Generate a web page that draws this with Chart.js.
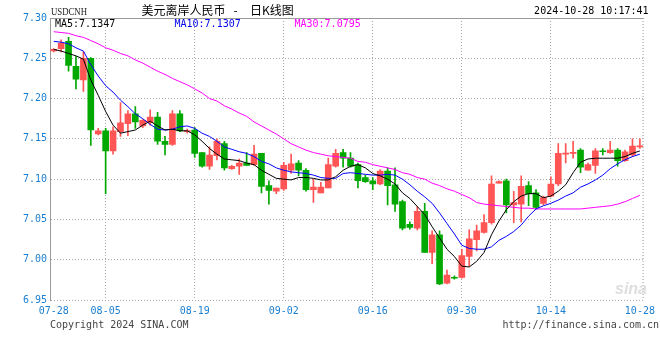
<!DOCTYPE html>
<html><head><meta charset="utf-8">
<script src="https://cdn.jsdelivr.net/npm/chart.js@4/dist/chart.umd.min.js"></script>
<style>html,body{margin:0;padding:0;background:#fff}canvas{display:block}</style>
</head><body>
<canvas id="c" width="660" height="360"></canvas>
<script>
const dates = ['07-28','07-29','07-30','07-31','08-01','08-02',
 '08-04','08-05','08-06','08-07','08-08','08-09',
 '08-11','08-12','08-13','08-14','08-15','08-16',
 '08-18','08-19','08-20','08-21','08-22','08-23',
 '08-25','08-26','08-27','08-28','08-29','08-30',
 '09-01','09-02','09-03','09-04','09-05','09-06',
 '09-08','09-09','09-10','09-11','09-12','09-13',
 '09-15','09-16','09-17','09-18','09-19','09-20',
 '09-22','09-23','09-24','09-25','09-26','09-27',
 '09-29','09-30','10-01','10-02','10-03','10-04',
 '10-06','10-07','10-08','10-09','10-10','10-11',
 '10-13','10-14','10-15','10-16','10-17','10-18',
 '10-20','10-21','10-22','10-23','10-24','10-25',
 '10-27','10-28'];
const openP = [7.259,7.262,7.271,7.240,7.223,7.250,7.156,7.160,7.135,7.159,
 7.169,7.181,7.166,7.170,7.177,7.147,7.143,7.181,7.159,7.161,
 7.133,7.116,7.129,7.144,7.113,7.116,7.120,7.118,7.132,7.092,
 7.085,7.088,7.111,7.120,7.111,7.087,7.083,7.089,7.116,7.133,
 7.126,7.118,7.102,7.098,7.094,7.110,7.093,7.072,7.044,7.039,
 7.060,7.009,7.031,6.971,6.978,6.978,7.004,7.025,7.034,7.046,
 7.095,7.098,7.068,7.069,7.092,7.083,7.070,7.079,7.094,7.131,
 7.132,7.136,7.111,7.117,7.135,7.133,7.136,7.123,7.130,7.140];
const highP = [7.262,7.273,7.276,7.252,7.258,7.251,7.163,7.163,7.165,7.195,
 7.185,7.190,7.174,7.186,7.183,7.153,7.185,7.185,7.162,7.164,
 7.133,7.140,7.150,7.147,7.117,7.125,7.133,7.142,7.132,7.098,
 7.089,7.121,7.131,7.123,7.113,7.100,7.096,7.126,7.137,7.137,
 7.133,7.120,7.105,7.102,7.112,7.114,7.114,7.074,7.047,7.066,
 7.070,7.036,7.036,6.987,6.980,7.013,7.037,7.043,7.056,7.104,
 7.098,7.100,7.085,7.104,7.097,7.087,7.079,7.103,7.144,7.144,
 7.147,7.138,7.120,7.138,7.138,7.147,7.138,7.136,7.150,7.150];
const lowP = [7.258,7.258,7.234,7.212,7.209,7.142,7.155,7.082,7.131,7.153,
 7.154,7.163,7.164,7.167,7.143,7.130,7.142,7.159,7.157,7.127,
 7.115,7.112,7.124,7.111,7.112,7.106,7.117,7.117,7.083,7.069,
 7.082,7.086,7.107,7.104,7.085,7.071,7.083,7.089,7.115,7.115,
 7.115,7.089,7.096,7.087,7.093,7.068,7.060,7.037,7.038,7.037,
 7.009,6.995,6.969,6.970,6.976,6.977,6.992,7.011,7.033,7.044,
 7.095,7.058,7.046,7.047,7.067,7.063,7.068,7.078,7.092,7.120,
 7.126,7.108,7.111,7.107,7.130,7.132,7.116,7.122,7.128,7.138];
const closeP = [7.261,7.269,7.241,7.224,7.250,7.161,7.160,7.135,7.160,7.170,
 7.181,7.171,7.173,7.177,7.147,7.143,7.181,7.160,7.160,7.132,
 7.116,7.130,7.147,7.114,7.116,7.120,7.117,7.131,7.091,7.086,
 7.089,7.117,7.119,7.111,7.087,7.090,7.090,7.118,7.132,7.126,
 7.116,7.098,7.097,7.094,7.110,7.092,7.069,7.039,7.040,7.060,
 7.009,7.031,6.970,6.981,6.977,7.005,7.026,7.036,7.046,7.094,
 7.097,7.068,7.071,7.091,7.082,7.065,7.077,7.094,7.132,7.132,
 7.133,7.115,7.118,7.135,7.134,7.136,7.123,7.134,7.141,7.141];
const ma5 = [7.261,7.259,7.256,7.253,7.249,7.223,7.204,7.184,7.167,7.157,
 7.159,7.161,7.167,7.172,7.166,7.161,7.162,7.160,7.160,7.155,
 7.147,7.138,7.131,7.125,7.124,7.123,7.120,7.118,7.111,7.106,
 7.101,7.100,7.099,7.102,7.102,7.101,7.099,7.099,7.103,7.111,
 7.116,7.118,7.114,7.107,7.104,7.100,7.094,7.083,7.076,7.066,
 7.056,7.041,7.027,7.013,7.004,6.992,6.991,6.998,7.009,7.031,
 7.048,7.062,7.072,7.079,7.082,7.082,7.077,7.079,7.085,7.093,
 7.108,7.121,7.125,7.126,7.126,7.126,7.126,7.128,7.132,7.135];
const ma10 = [7.271,7.270,7.268,7.263,7.259,7.242,7.228,7.216,7.208,7.198,
 7.190,7.181,7.175,7.168,7.162,7.161,7.162,7.165,7.166,7.163,
 7.157,7.153,7.147,7.140,7.137,7.134,7.132,7.128,7.122,7.119,
 7.114,7.111,7.109,7.108,7.107,7.105,7.102,7.101,7.101,7.107,
 7.108,7.107,7.106,7.105,7.105,7.106,7.105,7.100,7.093,7.085,
 7.078,7.070,7.058,7.045,7.032,7.018,7.014,7.013,7.013,7.016,
 7.024,7.029,7.035,7.043,7.054,7.063,7.067,7.070,7.074,7.079,
 7.083,7.090,7.094,7.099,7.105,7.113,7.119,7.124,7.128,7.131];
const ma30 = [7.283,7.282,7.281,7.278,7.276,7.272,7.268,7.263,7.260,7.256,
 7.253,7.248,7.244,7.239,7.234,7.230,7.225,7.221,7.217,7.212,
 7.207,7.200,7.197,7.191,7.187,7.182,7.178,7.171,7.166,7.161,
 7.156,7.150,7.144,7.140,7.136,7.133,7.131,7.129,7.128,7.127,
 7.126,7.122,7.121,7.118,7.116,7.114,7.112,7.108,7.106,7.102,
 7.100,7.095,7.092,7.088,7.085,7.081,7.077,7.071,7.069,7.068,
 7.067,7.066,7.065,7.064,7.064,7.063,7.063,7.063,7.063,7.063,
 7.063,7.063,7.064,7.065,7.066,7.067,7.069,7.072,7.076,7.080];
const yTicks = [6.95,7.00,7.05,7.10,7.15,7.20,7.25,7.30];
const xTickLabels = ['07-28','08-05','08-19','09-02','09-16','09-30','10-14','10-28'];
const gridDates = ['08-05','08-19','09-02','09-16','09-30','10-14'];

const UP = '#ff5555', DOWN = '#00a800';
const candleColors = openP.map((o, i) => closeP[i] >= o ? UP : DOWN);
const bodies = openP.map((o, i) => [o, closeP[i]]);
const wicks = lowP.map((l, i) => [l, highP[i]]);
const MONO = '"DejaVu Sans Mono", "Liberation Mono", monospace';
const AXIS_BLUE = '#1b7fd1';

const deco = {
  id: 'deco',
  afterDraw(chart) {
    const {ctx, chartArea: a} = chart;
    ctx.save();
    ctx.strokeStyle = '#9a9a9a';
    ctx.lineWidth = 1;
    ctx.beginPath(); ctx.moveTo(a.left, a.top + 0.5); ctx.lineTo(a.right, a.top + 0.5); ctx.stroke();
    ctx.setLineDash([1, 2]);
    ctx.beginPath(); ctx.moveTo(a.right - 0.5, a.top); ctx.lineTo(a.right - 0.5, a.bottom); ctx.stroke();
    ctx.setLineDash([]);

    ctx.textBaseline = 'middle';
    ctx.fillStyle = '#222';
    ctx.font = '11px "Liberation Serif", serif';
    ctx.textAlign = 'left';
    ctx.fillText('USDCNH', 51, 12.5, 36);
    ctx.fillStyle = '#000';
    ctx.font = '12px "Noto Sans CJK SC", sans-serif';
    ctx.fillText('美元离岸人民币', 141.5, 10.5);
    ctx.textAlign = 'center';
    ctx.fillText('-', 235.5, 10.5);
    ctx.textAlign = 'left';
    ctx.fillText('日K线图', 250, 10.5);
    ctx.font = '10px ' + MONO;
    ctx.textAlign = 'right';
    ctx.fillText('2024-10-28 10:17:41', 648.5, 11.5);
    ctx.textAlign = 'left';
    ctx.fillStyle = '#000';
    ctx.fillText('MA5:7.1347', 55, 24);
    ctx.fillStyle = '#0000ee';
    ctx.fillText('MA10:7.1307', 174.5, 24);
    ctx.fillStyle = '#ff00ff';
    ctx.fillText('MA30:7.0795', 294.5, 24);
    ctx.fillStyle = '#dedede';
    ctx.font = 'italic bold 16px "Liberation Sans", sans-serif';
    ctx.textAlign = 'right';
    ctx.fillText('sina', 647, 290);
    ctx.fillStyle = '#444';
    ctx.font = '10px ' + MONO;
    ctx.textAlign = 'left';
    ctx.fillText('Copyright 2024 SINA.COM', 50, 325);
    ctx.textAlign = 'right';
    ctx.fillText('http://finance.sina.com.cn', 659, 325);
    ctx.restore();
  }
};

new Chart(document.getElementById('c'), {
  type: 'bar',
  data: {
    labels: dates,
    datasets: [
      {type: 'line', label: 'MA5', data: ma5, borderColor: '#000', borderWidth: 1, pointRadius: 0, tension: 0, order: 0},
      {type: 'line', label: 'MA10', data: ma10, borderColor: '#0000ff', borderWidth: 1, pointRadius: 0, tension: 0, order: 1},
      {type: 'line', label: 'MA30', data: ma30, borderColor: '#ff00ff', borderWidth: 1, pointRadius: 0, tension: 0, order: 2},
      {label: 'body', data: bodies, backgroundColor: candleColors, borderWidth: 0, barThickness: 6, minBarLength: 1, grouped: false, order: 3},
      {label: 'wick', data: wicks, backgroundColor: candleColors, borderWidth: 0, barThickness: 1, minBarLength: 1, grouped: false, order: 4}
    ]
  },
  options: {
    responsive: false,
    animation: false,
    events: [],
    layout: {padding: {left: 0, top: 18, right: 10, bottom: 0}},
    plugins: {legend: {display: false}, tooltip: {enabled: false}},
    scales: {
      x: {
        type: 'category',
        offset: true,
        afterFit(s) { s.height = 60; },
        grid: {
          offset: false,
          drawTicks: false,
          color: ctx => (ctx.tick && gridDates.includes(dates[ctx.index])) ? '#a8a8a8' : 'rgba(0,0,0,0)',
          lineWidth: 1
        },
        border: {display: false, dash: [1, 2]},
        ticks: {
          autoSkip: false, maxRotation: 0, minRotation: 0, padding: 5,
          color: AXIS_BLUE,
          font: {family: MONO, size: 10},
          callback: (v, i) => xTickLabels.includes(dates[i]) ? dates[i] : ''
        }
      },
      y: {
        min: 6.95, max: 7.30,
        afterFit(s) { s.width = 50; },
        afterBuildTicks(s) { s.ticks = yTicks.map(v => ({value: v})); },
        grid: {color: '#a8a8a8', lineWidth: 1, drawTicks: false},
        border: {display: true, color: '#9a9a9a', width: 1, dash: [1, 2]},
        ticks: {
          padding: 3,
          color: AXIS_BLUE,
          font: {family: MONO, size: 10},
          callback: v => Number(v).toFixed(2)
        }
      }
    }
  },
  plugins: [deco]
});
</script>
</body></html>
